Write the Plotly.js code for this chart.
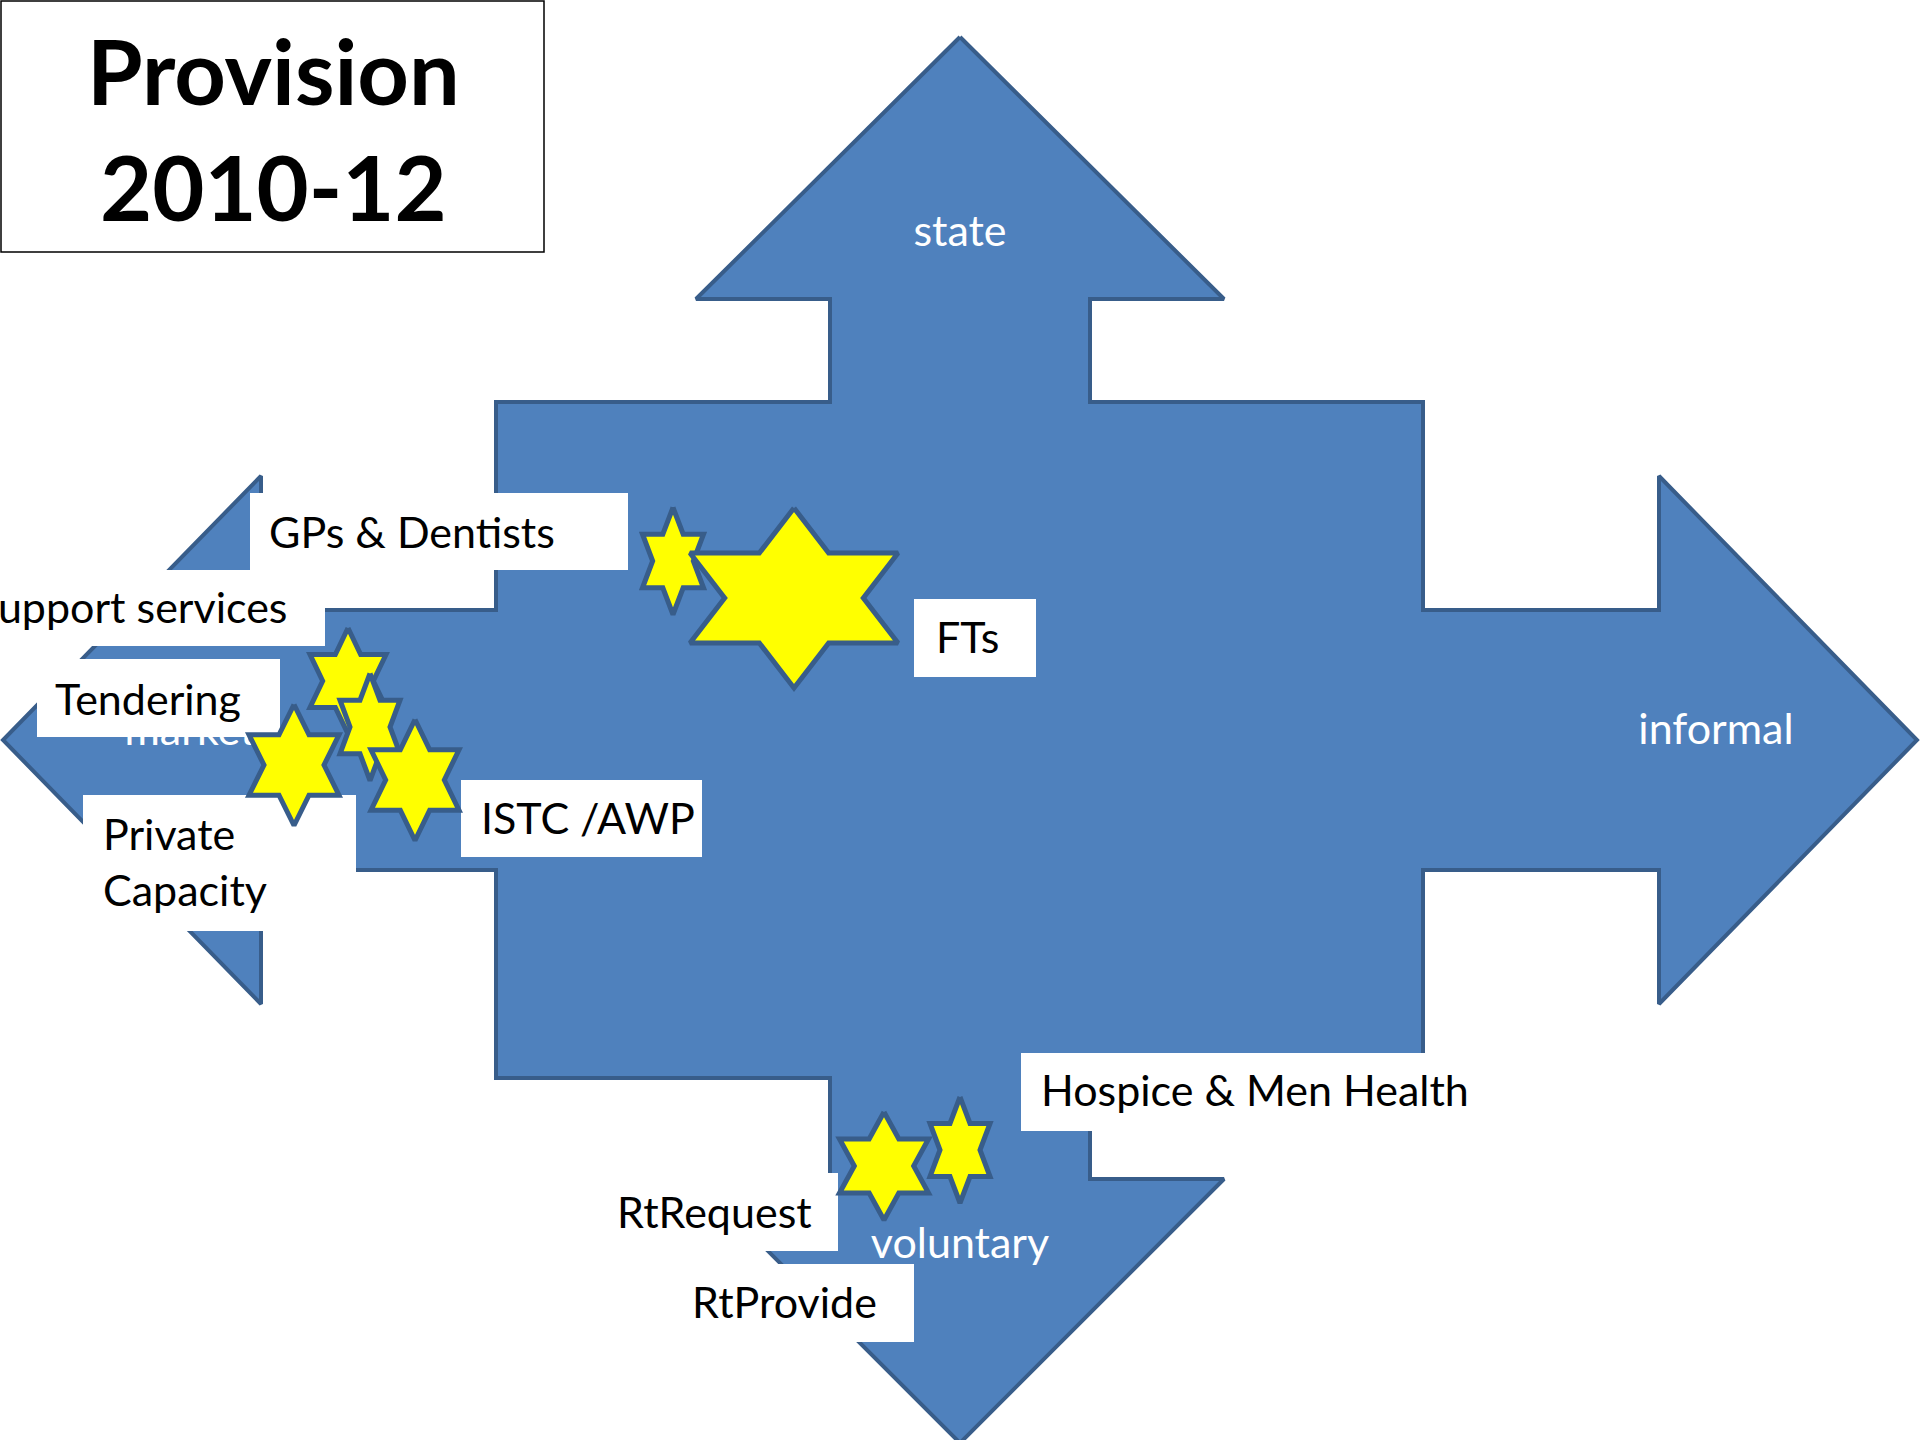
<!DOCTYPE html>
<html>
<head>
<meta charset="utf-8">
<script src="https://cdn.plot.ly/plotly-3.0.1.min.js"></script>
<style>html,body{margin:0;padding:0;background:#fff;}#chart{width:1920px;height:1440px;}</style>
</head>
<body>
<div id="chart"></div>
<script>
// ---- data ----
const titleLines = ["Provision", "2010-12"];
const axisWords = ["state", "informal", "voluntary", "market"];
const axisWordX = [960, 1716, 960, 190];
const axisWordBase = [250, 748, 1262, 749];

const labelTexts = ["GPs &amp; Dentists", "Support services", "Tendering", "Private<br>Capacity", "ISTC /AWP", "FTs", "Hospice &amp; Men Health", "RtRequest", "RtProvide"];
const labelX = [267, 289, 53, 101, 479, 934, 1039, 615, 690];
const labelBase = [547, 622, 714, 849, 833, 652, 1105, 1227, 1317];
const labelAnchor = ["left", "right", "left", "left", "left", "left", "left", "left", "left"];
const boxX0 = [250, 0, 37, 83, 461, 914, 1021, 596, 672];
const boxX1 = [628, 325, 280, 356, 702, 1036, 1500, 838, 914];
const boxY0 = [493, 570, 659, 795, 780, 599, 1053, 1173, 1264];
const boxY1 = [570, 646, 737, 931, 857, 677, 1131, 1251, 1342];

const starNames = ["GPs & Dentists", "FTs", "Support services", "Tendering", "Private Capacity", "ISTC /AWP", "RtRequest", "Hospice & Men Health"];
const starCX = [673, 794, 348, 370, 294, 415, 884, 960];
const starCY = [561, 598, 681, 727, 765, 780, 1166, 1150];
const starW = [61, 208, 76, 60, 90, 88, 89, 60];
const starH = [107, 180, 106, 107, 121, 121, 108, 106];

// ---- geometry of the four-way arrow ----
const G = {cx: 960, cy: 740, shaft: 130, bodyL: 496, bodyR: 1423, bodyT: 402, bodyB: 1078,
  head: 264, headUp: 299, headDown: 1179, headLeft: 261, headRight: 1659,
  tipUp: 37, tipDown: 1443, tipLeft: 3, tipRight: 1917};

const ARROW_FILL = "#4F81BD", ARROW_LINE = "#385D8A", STAR_FILL = "#FFFF00";
const FONT = "Lato, 'Open Sans', sans-serif";
const FS = 43;
const TFS = 90;

function arrowPts() {
  const c = G;
  return [
    [c.cx, c.tipUp], [c.cx + c.head, c.headUp], [c.cx + c.shaft, c.headUp], [c.cx + c.shaft, c.bodyT],
    [c.bodyR, c.bodyT], [c.bodyR, c.cy - c.shaft], [c.headRight, c.cy - c.shaft], [c.headRight, c.cy - c.head],
    [c.tipRight, c.cy], [c.headRight, c.cy + c.head], [c.headRight, c.cy + c.shaft], [c.bodyR, c.cy + c.shaft],
    [c.bodyR, c.bodyB], [c.cx + c.shaft, c.bodyB], [c.cx + c.shaft, c.headDown], [c.cx + c.head, c.headDown],
    [c.cx, c.tipDown], [c.cx - c.head, c.headDown], [c.cx - c.shaft, c.headDown], [c.cx - c.shaft, c.bodyB],
    [c.bodyL, c.bodyB], [c.bodyL, c.cy + c.shaft], [c.headLeft, c.cy + c.shaft], [c.headLeft, c.cy + c.head],
    [c.tipLeft, c.cy], [c.headLeft, c.cy - c.head], [c.headLeft, c.cy - c.shaft], [c.bodyL, c.cy - c.shaft],
    [c.bodyL, c.bodyT], [c.cx - c.shaft, c.bodyT], [c.cx - c.shaft, c.headUp], [c.cx - c.head, c.headUp],
    [c.cx, c.tipUp]
  ];
}

function starPts(cx, cy, w, h) {
  const rel = [[0, -0.5], [1/6, -0.25], [0.5, -0.25], [1/3, 0], [0.5, 0.25], [1/6, 0.25],
               [0, 0.5], [-1/6, 0.25], [-0.5, 0.25], [-1/3, 0], [-0.5, -0.25], [-1/6, -0.25], [0, -0.5]];
  return rel.map(p => [cx + p[0] * w, cy + p[1] * h]);
}

const traces = [];
const ap = arrowPts();
traces.push({x: ap.map(p => p[0]), y: ap.map(p => p[1]), mode: "lines", fill: "toself",
  fillcolor: ARROW_FILL, line: {color: ARROW_LINE, width: 4}, hoverinfo: "skip", showlegend: false});

traces.push({x: axisWordX, y: axisWordBase.map(b => b - 0.35 * FS), mode: "text", text: axisWords,
  textposition: "middle center", textfont: {family: FONT, size: FS, color: "#FFFFFF"},
  hoverinfo: "skip", showlegend: false, cliponaxis: false});

for (let i = 0; i < labelTexts.length; i++) {
  traces.push({x: [boxX0[i], boxX1[i], boxX1[i], boxX0[i], boxX0[i]],
    y: [boxY0[i], boxY0[i], boxY1[i], boxY1[i], boxY0[i]], mode: "lines", fill: "toself",
    fillcolor: "#FFFFFF", line: {width: 0, color: "#FFFFFF"}, hoverinfo: "skip", showlegend: false});
}

for (let i = 0; i < starCX.length; i++) {
  const sp = starPts(starCX[i], starCY[i], starW[i], starH[i]);
  traces.push({x: sp.map(p => p[0]), y: sp.map(p => p[1]), mode: "lines", fill: "toself",
    fillcolor: STAR_FILL, line: {color: ARROW_LINE, width: 5}, name: starNames[i],
    hoverinfo: "skip", showlegend: false});
}

const annotations = [];
for (let i = 0; i < labelTexts.length; i++) {
  const lines = labelTexts[i].split("<br>").length;
  const yMid = labelBase[i] - 0.36 * FS + (lines > 1 ? 0.65 * FS : 0);
  annotations.push({x: labelX[i], y: yMid, xref: "x", yref: "y", text: labelTexts[i], showarrow: false,
    xanchor: labelAnchor[i], yanchor: "middle", align: "left",
    font: {family: FONT, size: FS, color: "#000000"}});
}
annotations.push({x: 273, y: 102 - 0.36 * TFS, xref: "x", yref: "y", text: "<b>" + titleLines[0] + "</b>",
  showarrow: false, xanchor: "center", yanchor: "middle", font: {family: FONT, size: TFS, color: "#000000"}});
annotations.push({x: 273, y: 218 - 0.36 * TFS, xref: "x", yref: "y", text: "<b>" + titleLines[1] + "</b>",
  showarrow: false, xanchor: "center", yanchor: "middle", font: {family: FONT, size: TFS, color: "#000000"}});

const layout = {
  width: 1920, height: 1440, margin: {l: 0, r: 0, t: 0, b: 0},
  paper_bgcolor: "#FFFFFF", plot_bgcolor: "#FFFFFF",
  xaxis: {range: [0, 1920], visible: false, fixedrange: true},
  yaxis: {range: [1440, 0], visible: false, fixedrange: true},
  shapes: [{type: "rect", xref: "x", yref: "y", x0: 1, y0: 1, x1: 544, y1: 252,
    line: {color: "#000000", width: 1.5}, fillcolor: "rgba(0,0,0,0)", layer: "above"}],
  annotations: annotations,
  showlegend: false
};

Plotly.newPlot("chart", traces, layout, {staticPlot: true, displayModeBar: false});
</script>
</body>
</html>
